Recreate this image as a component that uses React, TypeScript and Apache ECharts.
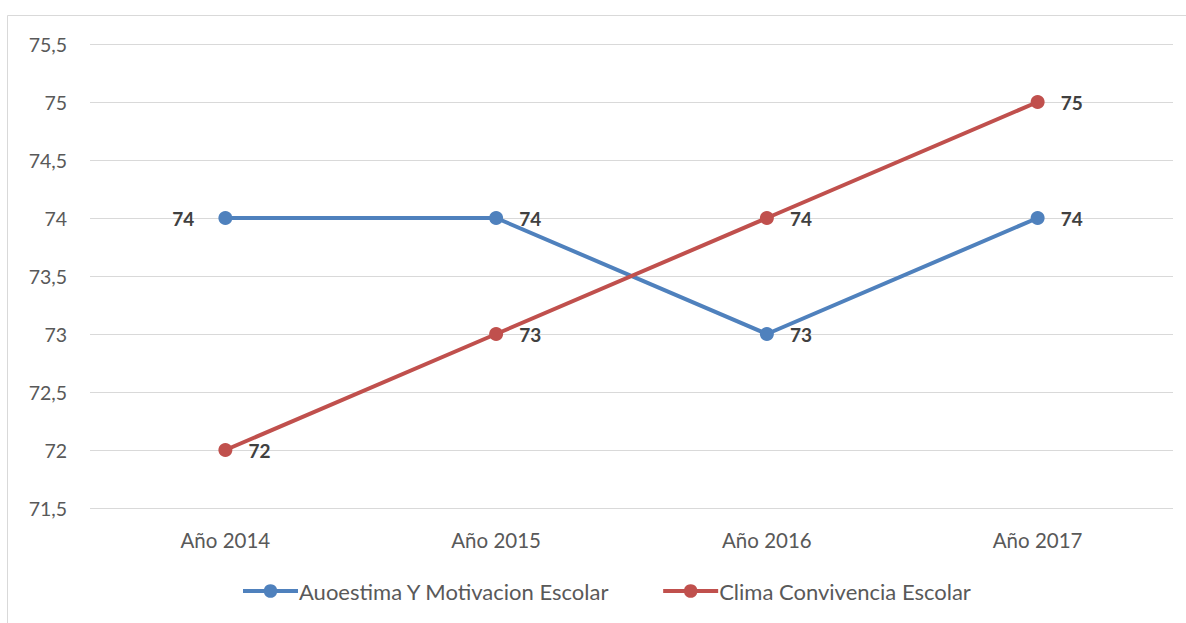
import React, { useEffect, useRef } from "react";
import * as echarts from "echarts";

const categories = ["Año 2014", "Año 2015", "Año 2016", "Año 2017"];
const autoestima = [74, 74, 73, 74];
const clima = [72, 73, 74, 75];
const seriesNames = ["Auoestima Y Motivacion Escolar", "Clima Convivencia Escolar"];
const colors = ["#4F81BD", "#C0504D"];

const FONT = "Lato";

export default function App() {
  const ref = useRef<HTMLDivElement>(null);
  useEffect(() => {
    if (!ref.current) return;
    const chart = echarts.init(ref.current, null, { renderer: "svg" });
    const labelBase = {
      show: true,
      position: "right",
      distance: 16,
      fontFamily: FONT,
      fontWeight: "bold",
      fontSize: 19,
      color: "#404040",
    };
    chart.setOption({
      animation: false,
      backgroundColor: "#ffffff",
      graphic: [
        {
          type: "rect",
          shape: { x: 7.5, y: 15.5, width: 1300, height: 700 },
          style: { fill: "none", stroke: "#d9d9d9", lineWidth: 1 },
          silent: true,
        },
      ],
      grid: { left: 90, right: 13, top: 44, bottom: 115, containLabel: false },
      xAxis: {
        type: "category",
        data: categories,
        boundaryGap: true,
        axisLine: { show: false },
        axisTick: { show: false },
        axisLabel: { fontFamily: FONT, fontSize: 20.5, color: "#595959", margin: 21 },
        splitLine: { show: false },
      },
      yAxis: {
        type: "value",
        min: 71.5,
        max: 75.5,
        interval: 0.5,
        axisLine: { show: false },
        axisTick: { show: false },
        axisLabel: {
          fontFamily: FONT,
          fontSize: 19.5,
          color: "#595959",
          margin: 23,
          formatter: (v: number) => String(v).replace(".", ","),
        },
        splitLine: { lineStyle: { color: "#d9d9d9", width: 1 } },
      },
      legend: {
        left: 236,
        top: 575,
        itemWidth: 55,
        itemHeight: 17,
        itemGap: 51,
        lineStyle: { width: 4 },
        textStyle: { fontFamily: FONT, fontSize: 22, color: "#595959", padding: [0, 0, 0, -4] },
        data: seriesNames,
      },
      series: [
        {
          name: seriesNames[0],
          type: "line",
          data: autoestima.map((v, i) =>
            i === 0 ? { value: v, label: { position: "left", distance: 24 } } : v
          ),
          color: colors[0],
          lineStyle: { width: 4, color: colors[0] },
          itemStyle: { color: colors[0] },
          symbol: "circle",
          symbolSize: 14,
          label: labelBase,
        },
        {
          name: seriesNames[1],
          type: "line",
          data: clima,
          color: colors[1],
          lineStyle: { width: 4, color: colors[1] },
          itemStyle: { color: colors[1] },
          symbol: "circle",
          symbolSize: 14,
          label: labelBase,
        },
      ],
    });
    return () => chart.dispose();
  }, []);
  return (
    <div
      ref={ref}
      style={{ position: "absolute", left: 0, top: 0, width: 1186, height: 623 }}
    />
  );
}
